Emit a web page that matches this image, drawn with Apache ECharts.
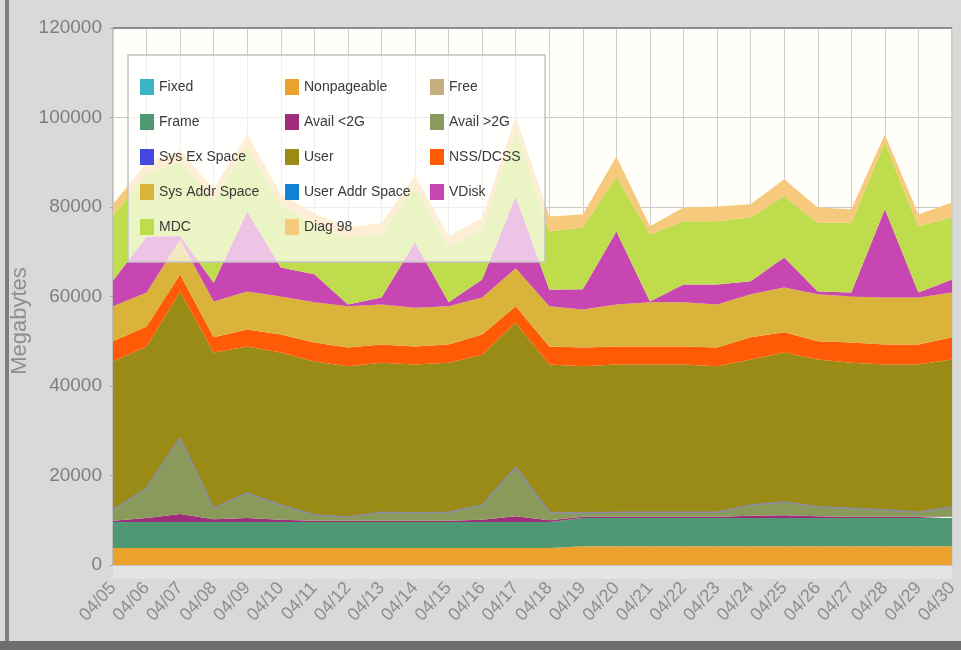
<!DOCTYPE html>
<html>
<head>
<meta charset="utf-8">
<script src="https://cdn.jsdelivr.net/npm/echarts@6/dist/echarts.min.js"></script>
<style>
html,body{margin:0;padding:0;background:#d9d9d9;}
#chart{width:961px;height:650px;}
</style>
</head>
<body>
<div id="chart"></div>
<script>
const dates = ['04/05','04/06','04/07','04/08','04/09','04/10','04/11','04/12','04/13','04/14','04/15','04/16','04/17','04/18','04/19','04/20','04/21','04/22','04/23','04/24','04/25','04/26','04/27','04/28','04/29','04/30'];
const yTicks = [0, 20000, 40000, 60000, 80000, 100000, 120000];

const nonpageable = [3800,3800,3800,3800,3800,3800,3800,3800,3800,3800,3800,3800,3800,3800,4200,4200,4200,4200,4200,4200,4200,4200,4200,4200,4200,4200];
const frame       = [5800,5800,5800,5800,5800,5800,5800,5800,5800,5800,5800,5800,5800,5800,6300,6300,6300,6300,6300,6300,6300,6300,6300,6300,6300,6300];
const fixed       = [0,0,0,0,0,0,0,0,0,0,0,0,0,0,0,0,0,0,0,0,0,0,0,0,0,0];
const availLt2G   = [300,900,1800,600,900,500,300,300,300,300,300,500,1300,400,300,300,300,300,300,500,600,400,300,300,300,300];
const availGt2G   = [2400,6700,17000,2500,5600,3300,1300,800,1900,1700,1900,3300,11000,1800,800,1000,1000,1000,1000,2400,3000,2100,1900,1500,1000,2200];
const free        = [0,0,0,0,0,0,0,0,0,0,0,0,0,0,0,0,0,0,0,0,0,0,0,0,0,0];
const user        = [33200,31600,32700,34800,32700,34100,34300,33700,33400,33200,33400,33600,32300,33000,32800,33000,33000,33000,32600,32500,33400,32900,32500,32500,33000,32900];
const sysExSpace  = [0,0,0,0,0,0,0,0,0,0,0,0,0,0,0,0,0,0,0,0,0,0,0,0,0,0];
const userAddr    = [0,0,0,0,0,0,0,0,0,0,0,0,0,0,0,0,0,0,0,0,0,0,0,0,0,0];
const nssDcss     = [4500,4500,3800,3400,3800,4000,4200,4200,4100,4000,4100,4500,3600,4000,4200,4000,4000,4000,4200,5000,4500,4100,4500,4500,4500,5000];
const sysAddr     = [7800,7600,7800,8000,8500,8500,9000,9200,8900,8700,8500,8300,8500,9000,8500,9400,9900,9900,9600,9600,10000,10500,10300,10500,10500,10000];
const vdisk       = [5700,12500,800,4200,17900,6500,6300,400,1600,14600,900,4000,16100,3700,4500,16300,200,4000,4500,2900,6700,600,900,19700,1100,2900];
const mdc         = [14500,14100,16500,18400,14500,14000,11000,14800,14200,12400,12300,11200,15100,13000,13800,12300,15000,14100,14100,14300,13700,15400,15600,14900,14800,13900];
const diag98      = [2600,2400,2600,2500,2700,2400,2600,2500,2400,2600,2500,2600,2800,3400,2900,4500,1800,3100,3300,2900,3800,3400,3000,1800,2600,3300];

const legendOrder = ['Fixed','Nonpageable','Free','Frame','Avail <2G','Avail >2G','Sys Ex Space','User','NSS/DCSS','Sys Addr Space','User Addr Space','VDisk','MDC','Diag 98'];

const layers = [
  {name:'Nonpageable', data:nonpageable, color:'#eaa22c'},
  {name:'Frame', data:frame, color:'#4f9874'},
  {name:'Fixed', data:fixed, color:'#3cb4c6'},
  {name:'Avail <2G', data:availLt2G, color:'#a02c7c'},
  {name:'Avail >2G', data:availGt2G, color:'#8a9a5a', line:'#8c8ca8'},
  {name:'Free', data:free, color:'#c4ae80'},
  {name:'User', data:user, color:'#9a8a16'},
  {name:'Sys Ex Space', data:sysExSpace, color:'#4448e0'},
  {name:'User Addr Space', data:userAddr, color:'#1282d6'},
  {name:'NSS/DCSS', data:nssDcss, color:'#ff5a06'},
  {name:'Sys Addr Space', data:sysAddr, color:'#dab43a'},
  {name:'VDisk', data:vdisk, color:'#c846b2'},
  {name:'MDC', data:mdc, color:'#bfdc4c'},
  {name:'Diag 98', data:diag98, color:'#f7c97c'}
];

const FONT = '"Liberation Sans", Arial, sans-serif';
const chart = echarts.init(document.getElementById('chart'));
const option = {
  backgroundColor: '#d9d9d9',
  animation: false,
  grid: {left:113, right:9, top:28, bottom:85, show:true, backgroundColor:'#fffef9', borderColor:'#a0a0a0', borderWidth:1},
  graphic: [
    {type:'rect', left:5, top:0, shape:{width:4, height:650}, style:{fill:'#7c7c7c'}, zlevel:1},
    {type:'rect', left:0, top:641, shape:{width:961, height:9}, style:{fill:'#6e6e6e'}, zlevel:1},
    {type:'rect', x:113, y:566, shape:{x:0, y:0, width:839, height:13}, style:{fill:'#e6e3e6'}, zlevel:1},
    {type:'rect', x:113, y:27, shape:{x:0, y:0, width:839, height:2}, style:{fill:'#8c8c8c'}, zlevel:1},
    {type:'rect', x:128, y:55, shape:{x:0, y:0, width:417, height:207}, style:{fill:'rgba(255,255,255,0.68)', stroke:'#c4c4c4', lineWidth:1.5}, zlevel:1},
    {type:'text', x:20, y:321, rotation:Math.PI/2, style:{text:'Megabytes', fill:'#8e8e8e', font:'22px ' + FONT, align:'center', verticalAlign:'middle'}, zlevel:1}
  ],
  legend: {
    data: legendOrder,
    left: 140, top: 79, width: 450,
    orient: 'horizontal',
    itemWidth: 14, itemHeight: 16, itemGap: 19,
    icon: 'rect',
    padding: 0,
    zlevel: 2,
    textStyle: {fontFamily:FONT, fontSize:14, color:'#3a3a3a', width:107, lineHeight:16, overflow:'none'}
  },
  xAxis: {
    type:'category', data:dates, boundaryGap:false,
    axisLine:{show:false}, axisTick:{show:false},
    axisLabel:{rotate:48, fontFamily:FONT, fontSize:18, color:'#8e8e8e', margin:20},
    splitLine:{show:true, lineStyle:{color:'#cfcfcf', width:1}}
  },
  yAxis: {
    type:'value', min:yTicks[0], max:yTicks[yTicks.length-1], interval:20000,
    axisLine:{show:false}, axisTick:{show:true, length:3, lineStyle:{color:'#aaa'}},
    axisLabel:{fontFamily:FONT, fontSize:19, color:'#7e7e7e', margin:11, formatter: v => String(v)},
    splitLine:{show:true, lineStyle:{color:'#c8c8c8', width:1}}
  },
  series: layers.map(l => ({
    name:l.name, type:'line', stack:'mem', data:l.data,
    symbol:'none', smooth:false,
    itemStyle:{color:l.color},
    lineStyle: l.line ? {color:l.line, width:1.5} : {width:0},
    areaStyle:{color:l.color, opacity:1},
    emphasis:{disabled:true}
  }))
};
chart.setOption(option);
</script>
</body>
</html>
